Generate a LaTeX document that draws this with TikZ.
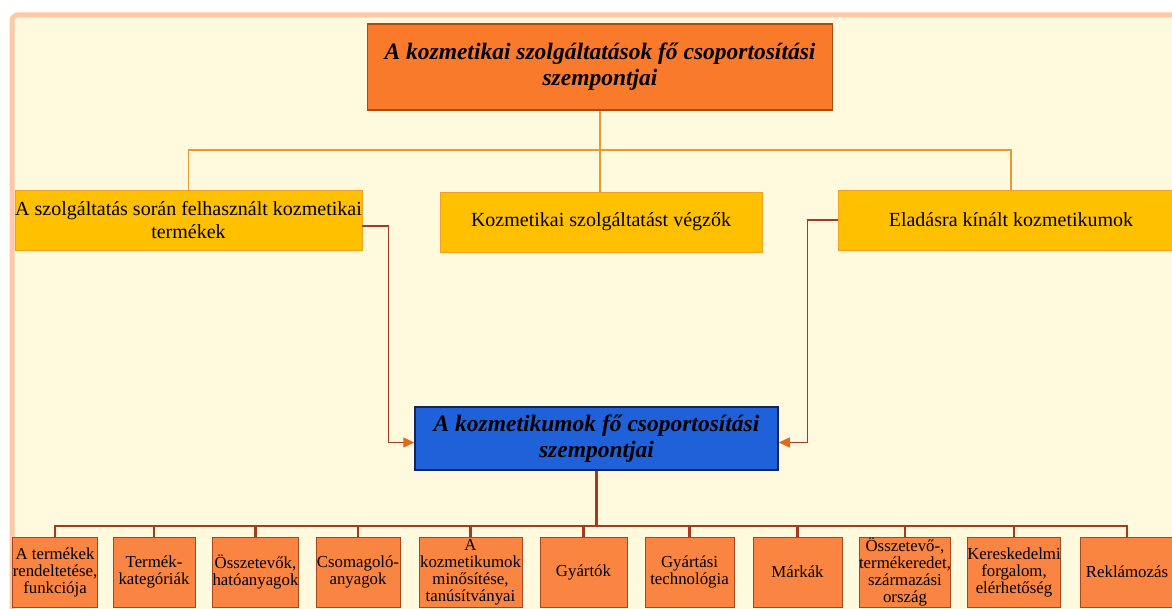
\documentclass[tikz,border=0pt]{standalone}
\usepackage{fontspec}
\setmainfont{Liberation Serif}
\usetikzlibrary{arrows.meta}
\definecolor{cream}{RGB}{255,249,222}
\definecolor{peach}{RGB}{255,201,168}
\definecolor{headfill}{RGB}{250,122,44}
\definecolor{headline}{RGB}{176,72,18}
\definecolor{gold}{RGB}{255,192,0}
\definecolor{goldline}{RGB}{240,160,40}
\definecolor{bluefill}{RGB}{31,97,216}
\definecolor{blueline}{RGB}{20,36,90}
\definecolor{leaffill}{RGB}{250,132,66}
\definecolor{leafline}{RGB}{170,70,30}
\definecolor{branch}{RGB}{231,155,46}
\definecolor{brick}{RGB}{165,58,32}
\definecolor{tip}{RGB}{226,104,26}

\begin{document}
\begin{tikzpicture}[x=1pt,y=-1pt,
  head/.style={draw=headline,line width=1.5pt,inner sep=0pt,align=center,
    font=\fontsize{23.5}{26}\selectfont\bfseries\itshape},
  group/.style={draw=goldline,fill=gold,line width=0.8pt,inner sep=0pt,align=center,
    minimum height=60pt,font=\fontsize{20}{23}\selectfont},
  leaf/.style={draw=leafline,fill=leaffill,line width=1pt,inner sep=0pt,align=center,
    minimum height=70pt,font=\fontsize{16.8}{17}\selectfont},
  branch1/.style={draw=branch,line width=1.8pt},
  branch2/.style={draw=brick,line width=2.5pt},
  side/.style={draw=brick,line width=1.4pt,-{Triangle[length=11pt,width=10pt,color=tip]}}]
 \fill[white] (0,0) rectangle (1172,609);
 \useasboundingbox (0,0) rectangle (1172,609);
 \clip (0,0) rectangle (1172,609);
 \draw[line width=5pt,draw=peach,fill=cream,rounded corners=6pt] (12,15) rectangle (1190,630);
% top level
 \node[head,fill=headfill,minimum width=465pt,minimum height=86pt] (top) at (600,67)
   {A kozmetikai szolgáltatások fő csoportosítási\\szempontjai};
 \node[group,minimum width=347pt] (used) at (188.5,220)
   {A szolgáltatás során felhasznált kozmetikai\\termékek};
 \node[group,minimum width=322pt] (staff) at (601,222) {Kozmetikai szolgáltatást végzők};
 \node[group,minimum width=346pt] (sold) at (1011,220) {Eladásra kínált kozmetikumok};
 \coordinate (j) at (600,150);
 \draw[branch1] (top.south) -- (top.south |- staff.north);
 \draw[branch1] (used.north) |- (j) -| (sold.north);
% second level
 \node[head,fill=bluefill,draw=blueline,minimum width=363pt,minimum height=63pt] (cosm) at (596.5,438.5)
   {A kozmetikumok fő csoportosítási\\szempontjai};
 \draw[side] ([yshift=-6pt]used.east) -- ++(26,0) |- ([yshift=-4pt]cosm.west);
 \draw[side] (sold.west) -- ++(-30,0) |- ([yshift=-4pt]cosm.east);
 \foreach \n/\cx/\w/\t in {
   1/55/80/{A termékek\\rendeltetése,\\funkciója},
   2/154/82/{Termék-\\kategóriák},
   3/255.5/83/{Összetevők,\\hatóanyagok},
   4/358/84/{Csomagoló-\\anyagok},
   5/470.5/103/{A\\kozmetikumok\\minősítése,\\tanúsítványai},
   6/583.5/87/{Gyártók},
   7/689.5/89/{Gyártási\\technológia},
   8/797.5/89/{Márkák},
   9/905/90/{Összetevő-,\\termékeredet,\\származási\\ország},
   10/1014/90/{Kereskedelmi\\forgalom,\\elérhetőség},
   11/1127/94/{Reklámozás}}
  \node[leaf,minimum width=\w pt] (b\n) at (\cx,572) {\t};
 \draw[branch2] (cosm.south) -- ++(0,55) coordinate (k);
 \draw[branch2] (b1.north) |- (k) -| (b11.north);
 \foreach \i in {2,...,10}
  \draw[branch2] (b\i.north) -- (b\i.north |- k);
\end{tikzpicture}
\end{document}
